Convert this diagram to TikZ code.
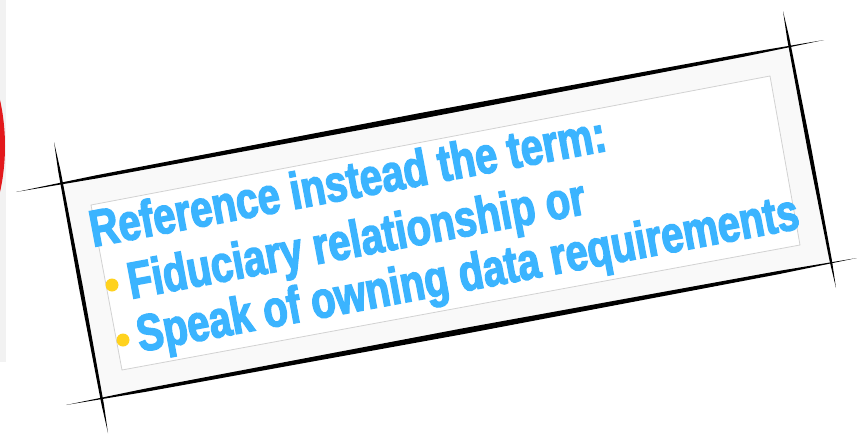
\documentclass[tikz,border=0pt]{standalone}
\usepackage{fontspec}
\usetikzlibrary{calc}
\newfontfamily\impfont{Liberation Sans}[UprightFont={* Bold},FakeStretch=0.77,FakeBold=2.6]
\definecolor{textblue}{HTML}{3BB4FF}
\definecolor{bullety}{HTML}{FFD21E}
\definecolor{redc}{HTML}{E3191C}
\definecolor{stripgray}{HTML}{F2F2F2}
\definecolor{bandgray}{HTML}{F9F9F9}
\definecolor{innergray}{HTML}{D2D2D2}
\tikzset{
  txt/.style={font=\impfont\fontsize{51.7}{60}\selectfont, text=textblue, inner sep=0pt, anchor=base west, rotate=10.6},
  bulletdot/.style={circle, fill=bullety, inner sep=0pt, minimum size=13pt}
}
\newcommand{\brushstroke}[4]{%
  \fill[black] (#1) -- ($(#1)!0.1!(#2)!#3!90:(#2)$) -- ($(#1)!0.5!(#2)!#4!90:(#2)$) -- ($(#1)!0.9!(#2)!#3!90:(#2)$) -- (#2)
   -- ($(#1)!0.9!(#2)!#3!-90:(#2)$) -- ($(#1)!0.5!(#2)!#4!-90:(#2)$) -- ($(#1)!0.1!(#2)!#3!-90:(#2)$) -- cycle;}
\begin{document}
\begin{tikzpicture}[x=1pt,y=-1pt]
\useasboundingbox (0,0) rectangle (857,434);
\fill[white] (0,0) rectangle (857,434);
\fill[stripgray] (0,0) rectangle (6,362);
\fill[redc] (-209,146) circle (214pt);
% frame corners
\coordinate (TL) at (60,183);
\coordinate (TR) at (788,47);
\coordinate (BR) at (830,263);
\coordinate (BL) at (102,398);
\fill[bandgray] (TL) -- (TR) -- (BR) -- (BL) -- cycle;
\coordinate (iTL) at (91,205);
\coordinate (iTR) at (770,76);
\coordinate (iBR) at (800,245);
\coordinate (iBL) at (122,370);
\filldraw[fill=white, draw=innergray, line width=0.8pt] (iTL) -- (iTR) -- (iBR) -- (iBL) -- cycle;
% sketchy strokes
\coordinate (ta) at (16,192);  \coordinate (tb) at (824,40);
\coordinate (ba) at (66,405);  \coordinate (bb) at (857,258);
\coordinate (la) at (54,142);  \coordinate (lb) at (108,433);
\coordinate (ra) at (783,11);  \coordinate (rb) at (836,288);
\brushstroke{ta}{tb}{1.6pt}{2.9pt}
\brushstroke{ba}{bb}{1.6pt}{2.9pt}
\brushstroke{la}{lb}{1.2pt}{2.0pt}
\brushstroke{ra}{rb}{1.2pt}{2.0pt}
% text
\node[txt] (l1) at (93,247) {Reference instead the term:};
\node[txt] (l2) at (131,299) {Fiduciary relationship or};
\node[txt] (l3) at (140,352) {Speak of owning data requirements};
\node[bulletdot] (b1) at (112,285) {};
\node[bulletdot] (b2) at (123,340) {};
\end{tikzpicture}
\end{document}
